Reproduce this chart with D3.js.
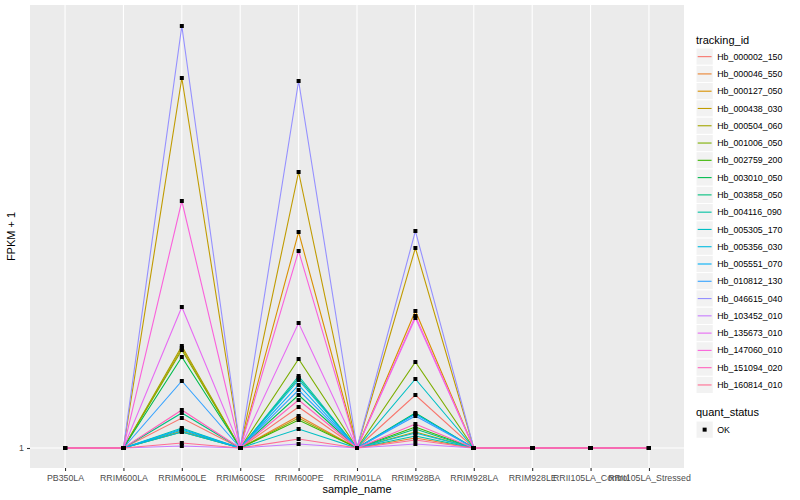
<!DOCTYPE html>
<html>
<head>
<meta charset="utf-8">
<script src="https://cdn.jsdelivr.net/npm/d3@7"></script>
<style>
  body { margin: 0; background: #fff; }
  text { font-family: "Liberation Sans", Arial, sans-serif; }
</style>
</head>
<body>
<svg id="chart" width="800" height="500"></svg>
<script>
// sample names on the x axis
const samples = ["PB350LA", "RRIM600LA", "RRIM600LE", "RRIM600SE", "RRIM600PE", "RRIM901LA",
    "RRIM928BA", "RRIM928LA", "RRIM928LE", "RRII105LA_Control", "RRII105LA_Stressed"];

const trackingIds = ["Hb_000002_150", "Hb_000046_550", "Hb_000127_050", "Hb_000438_030", "Hb_000504_060",
    "Hb_001006_050", "Hb_002759_200", "Hb_003010_050", "Hb_003858_050", "Hb_004116_090",
    "Hb_005305_170", "Hb_005356_030", "Hb_005551_070", "Hb_010812_130", "Hb_046615_040",
    "Hb_103452_010", "Hb_135673_010", "Hb_147060_010", "Hb_151094_020", "Hb_160814_010"];

const trackColors = ["#F8766D", "#EA8331", "#D89000", "#C09B00", "#A3A500", "#7CAE00", "#39B600", "#00BB4E",
    "#00BF7D", "#00C1A3", "#00BFC4", "#00BAE0", "#00B0F6", "#35A2FF", "#9590FF", "#C77CFF",
    "#E76BF3", "#FA62DB", "#FF62BC", "#FF6C91"];

// FPKM + 1 per tracking id (same order as trackingIds), only three samples move off 1
const valuesLE = [1.60, 1.34, 3.00, 8.40, 3.04, 2.96, 1.32, 2.82, 1.70, 1.40,
    1.36, 1.32, 1.38, 2.34, 9.44, 1.04, 3.82, 5.94, 1.76, 1.10];
const valuesPE = [1.82, 1.64, 5.32, 6.52, 1.60, 2.78, 1.56, 2.06, 2.40, 2.44,
    1.38, 2.36, 2.26, 2.16, 8.34, 1.08, 3.50, 4.94, 1.96, 1.18];
const valuesBA = [2.06, 1.20, 3.74, 5.00, 1.32, 2.72, 1.42, 1.70, 1.38, 1.24,
    2.38, 1.30, 1.68, 1.64, 5.34, 1.08, 3.60, 3.64, 1.48, 1.16];
const flatValue = 1;

const yTicks = [1];

const svg = d3.select("#chart");
const panel = { left: 30, right: 684, top: 5, bottom: 468 };

// series table
const series = trackingIds.map((id, i) => ({
    id: id,
    color: trackColors[i],
    values: samples.map(s => {
        if (s == "RRIM600LE") return valuesLE[i];
        if (s == "RRIM600PE") return valuesPE[i];
        if (s == "RRIM928BA") return valuesBA[i];
        return flatValue;
    })
}));

const x = d3.scalePoint()
    .domain(samples)
    .range([panel.left, panel.right])
    .padding(0.6);

const y = d3.scaleLinear()
    .domain([0.6, 9.86])
    .range([panel.bottom, panel.top]);

// panel background
svg.append("rect")
    .attr("x", panel.left)
    .attr("y", panel.top)
    .attr("width", panel.right - panel.left)
    .attr("height", panel.bottom - panel.top)
    .style("fill", "#EBEBEB");

// grid
svg.append("g").selectAll("line")
    .data(samples)
    .join("line")
    .attr("x1", d => x(d)).attr("x2", d => x(d))
    .attr("y1", panel.top).attr("y2", panel.bottom)
    .style("stroke", "#fff").style("stroke-width", 1.1);

svg.append("g").selectAll("line")
    .data(yTicks)
    .join("line")
    .attr("x1", panel.left).attr("x2", panel.right)
    .attr("y1", d => y(d)).attr("y2", d => y(d))
    .style("stroke", "#fff").style("stroke-width", 1.1);

// lines
const line = d3.line()
    .x((d, i) => x(samples[i]))
    .y(d => y(d));

svg.append("g").selectAll("path")
    .data(series)
    .join("path")
    .attr("d", d => line(d.values))
    .style("fill", "none")
    .style("stroke", d => d.color)
    .style("stroke-width", 1.1);

// points (quant_status OK)
const pts = series.flatMap(s => s.values.map((v, i) => ({ sample: samples[i], value: v })));
svg.append("g").selectAll("rect")
    .data(pts)
    .join("rect")
    .attr("x", d => x(d.sample) - 2)
    .attr("y", d => y(d.value) - 2)
    .attr("width", 4)
    .attr("height", 4)
    .style("fill", "#000");

// axes
const xAxis = svg.append("g")
    .attr("transform", `translate(0,${panel.bottom})`)
    .call(d3.axisBottom(x).tickSize(3).tickPadding(4));
const yAxis = svg.append("g")
    .attr("transform", `translate(${panel.left},0)`)
    .call(d3.axisLeft(y).tickValues(yTicks).tickSize(3).tickPadding(3).tickFormat(d3.format("d")));

[xAxis, yAxis].forEach(a => {
    a.select(".domain").remove();
    a.selectAll(".tick line").style("stroke", "#333").style("stroke-width", 1.1);
    a.selectAll(".tick text")
        .style("font-family", "Liberation Sans, Arial, sans-serif")
        .style("font-size", "8.8px")
        .style("fill", "#4D4D4D");
});

// axis titles
svg.append("text")
    .attr("x", (panel.left + panel.right) / 2)
    .attr("y", 493)
    .attr("text-anchor", "middle")
    .style("font-size", "11px")
    .text("sample_name");

svg.append("text")
    .attr("transform", `translate(15,${(panel.top + panel.bottom) / 2}) rotate(-90)`)
    .attr("text-anchor", "middle")
    .style("font-size", "11px")
    .text("FPKM + 1");

// legend: tracking_id
const legend = svg.append("g").attr("transform", "translate(696,0)");
const keySize = 17.28;
const keyTop = 48;

legend.append("text")
    .attr("x", 0).attr("y", 44)
    .style("font-size", "11px")
    .text("tracking_id");

const keys = legend.selectAll("g.key")
    .data(series)
    .join("g")
    .attr("class", "key")
    .attr("transform", (d, i) => `translate(0,${keyTop + i * keySize})`);

keys.append("rect")
    .attr("width", keySize).attr("height", keySize)
    .style("fill", "#F2F2F2").style("stroke", "#fff").style("stroke-width", 1);
keys.append("line")
    .attr("x1", 1.7).attr("x2", keySize - 1.7)
    .attr("y1", keySize / 2).attr("y2", keySize / 2)
    .style("stroke", d => d.color).style("stroke-width", 1.1);
keys.append("text")
    .attr("x", keySize + 4).attr("y", keySize / 2)
    .attr("dy", "0.35em")
    .style("font-size", "8.8px")
    .text(d => d.id);

// legend: quant_status
legend.append("text")
    .attr("x", 0).attr("y", 416)
    .style("font-size", "11px")
    .text("quant_status");

const okKey = legend.append("g").attr("transform", `translate(0,${421})`);
okKey.append("rect")
    .attr("width", keySize).attr("height", keySize)
    .style("fill", "#F2F2F2").style("stroke", "#fff");
okKey.append("rect")
    .attr("x", keySize / 2 - 2).attr("y", keySize / 2 - 2)
    .attr("width", 4).attr("height", 4)
    .style("fill", "#000");
okKey.append("text")
    .attr("x", keySize + 4).attr("y", keySize / 2)
    .attr("dy", "0.35em")
    .style("font-size", "8.8px")
    .text("OK");
</script>
</body>
</html>
